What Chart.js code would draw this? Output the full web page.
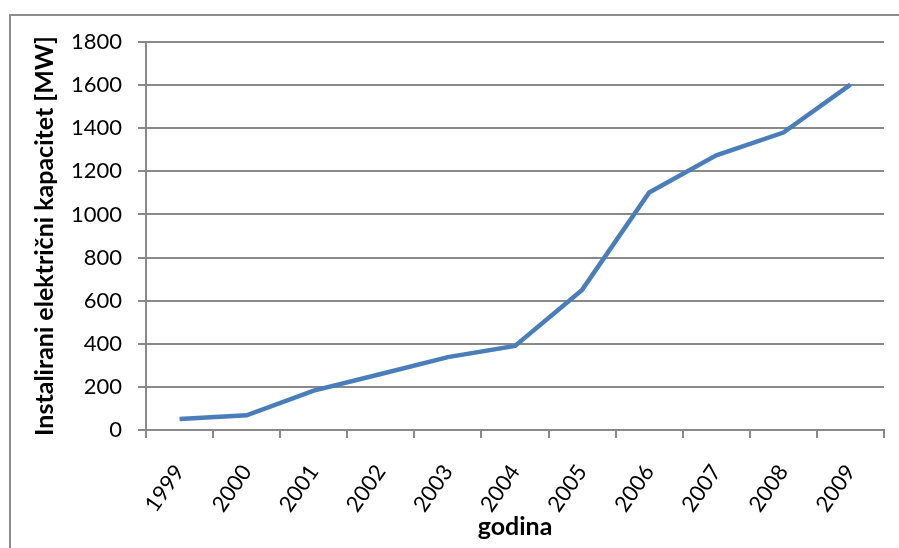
<!DOCTYPE html>
<html>
<head>
<meta charset="utf-8">
<script src="https://cdn.jsdelivr.net/npm/chart.js@4"></script>
<style>
  html, body { margin: 0; padding: 0; background: #fff; overflow: hidden; }
  #wrap { position: relative; width: 899px; height: 548px; }
  #frame { position: absolute; left: 9px; top: 14px; width: 1000px; height: 1000px; border: 2px solid #8c8c8c; box-sizing: border-box; }
  canvas { position: absolute; left: 0; top: 0; }
</style>
</head>
<body>
<div id="wrap">
  <div id="frame"></div>
  <canvas id="myChart" width="899" height="548"></canvas>
</div>
<script>
// podaci
var godine = ["1999", "2000", "2001", "2002", "2003", "2004", "2005", "2006", "2007", "2008", "2009"];
var kapacitet = [51, 68, 183, 260, 338, 390, 650, 1102, 1274, 1380, 1602];
var yTicks = [0, 200, 400, 600, 800, 1000, 1200, 1400, 1600, 1800];

var gridColor = '#898989';
var fontFam = 'Lato, "Open Sans", sans-serif';

var ctx = document.getElementById('myChart').getContext('2d');
var chart = new Chart(ctx, {
    type: 'line',
    data: {
        labels: godine,
        datasets: [{
            label: "kapacitet",
            data: kapacitet,
            borderColor: '#4a7ebb',
            borderWidth: 4.5,
            pointRadius: 0,
            tension: 0,
            fill: false
        }]
    },
    options: {
        responsive: false,
        animation: false,
        devicePixelRatio: 1,
        layout: { padding: { top: 42, right: 15, left: 0, bottom: 0 } },
        plugins: {
            legend: { display: false },
            tooltip: { enabled: false }
        },
        scales: {
            x: {
                offset: true,
                grid: {
                    offset: true,
                    drawOnChartArea: false,
                    drawTicks: true,
                    tickLength: 8,
                    color: gridColor,
                    lineWidth: 2
                },
                border: { color: gridColor, width: 2 },
                ticks: {
                    minRotation: 55,
                    maxRotation: 55,
                    padding: 22,
                    color: '#000',
                    font: { family: fontFam, size: 22 }
                },
                title: {
                    display: true,
                    text: 'godina',
                    color: '#000',
                    font: { family: fontFam, size: 25, weight: 'bold' },
                    padding: { top: 0, bottom: 6 }
                },
                afterFit: function(scale) { scale.height = 548 - 430; }
            },
            y: {
                min: 0,
                max: 1800,
                afterBuildTicks: function(scale) {
                    scale.ticks = yTicks.map(function(v) { return { value: v }; });
                },
                grid: {
                    color: gridColor,
                    lineWidth: 2,
                    tickLength: 8
                },
                border: { color: gridColor, width: 2 },
                ticks: {
                    padding: 16,
                    color: '#000',
                    font: { family: fontFam, size: 22 },
                    callback: function(v) { return String(v); }
                },
                title: {
                    display: true,
                    text: 'Instalirani električni kapacitet [MW]',
                    color: '#000',
                    font: { family: fontFam, size: 25, weight: 'bold' },
                    padding: { top: 30, bottom: 0 }
                },
                afterFit: function(scale) { scale.width = 146; }
            }
        }
    }
});
</script>
</body>
</html>
